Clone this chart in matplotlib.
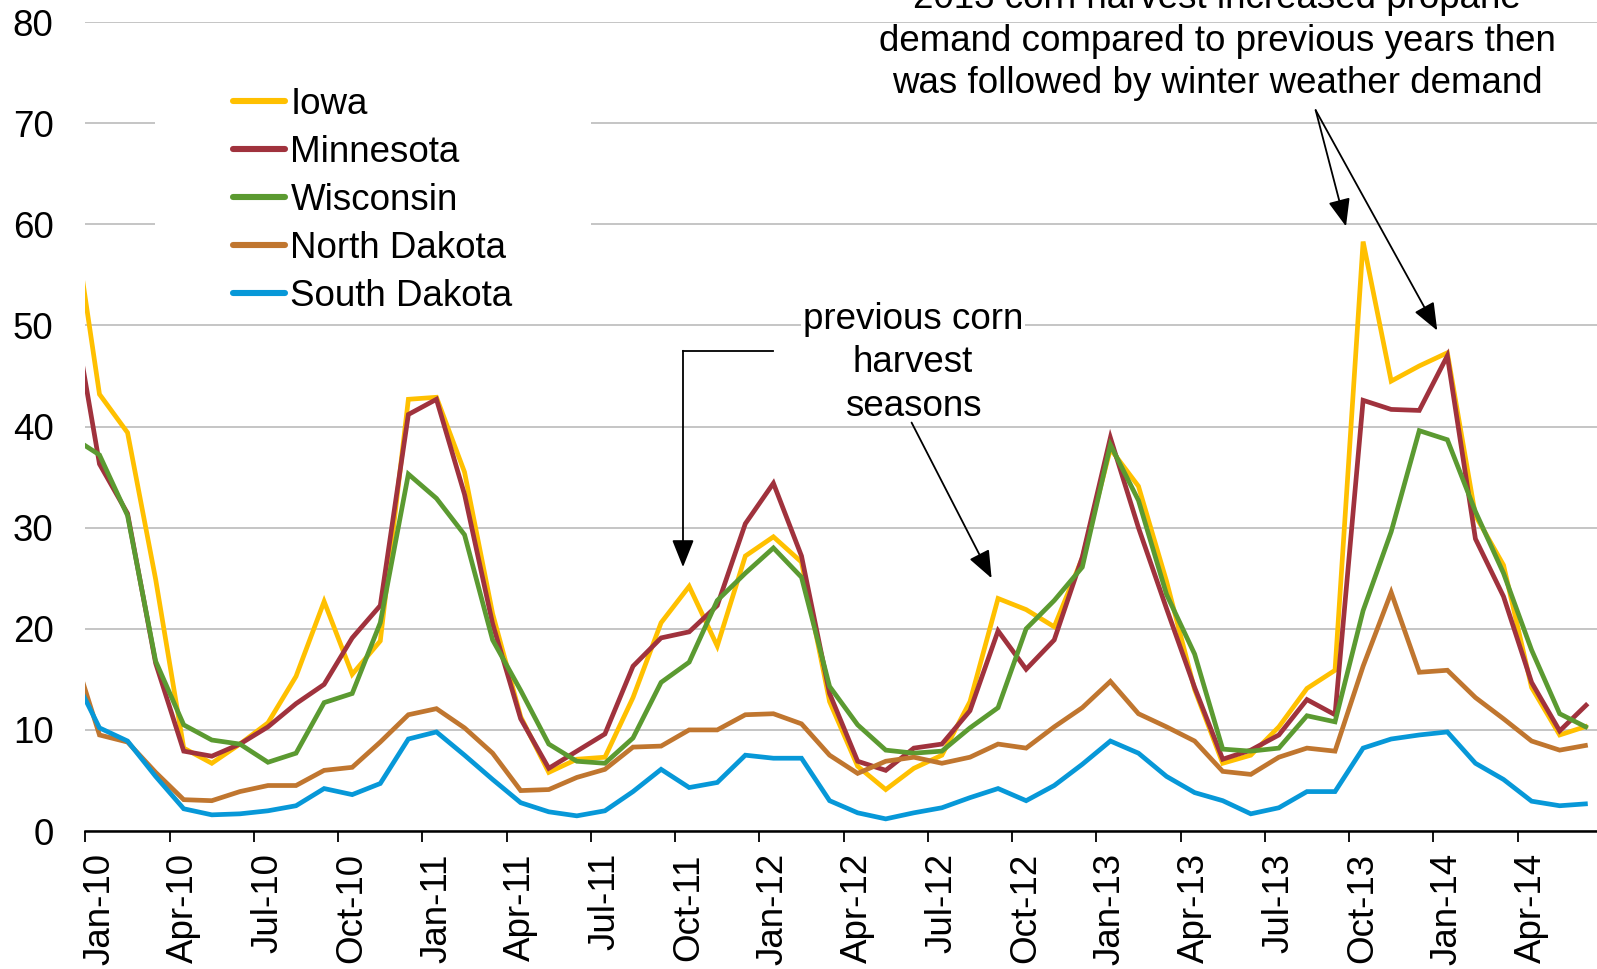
import matplotlib
matplotlib.use("Agg")
import matplotlib.pyplot as plt
import numpy as np
import pandas as pd
from matplotlib.patches import Rectangle

plt.rcParams['font.family'] = ['Liberation Sans', 'DejaVu Sans']

# Monthly categories Dec-09 .. Jun-14 (Dec-09 only partly visible at the left edge)
months = pd.date_range("2009-12-01", "2014-06-01", freq="MS")
month_labels = [d.strftime("%b-%y") for d in months]

iowa = [62.0,
        43.2, 39.4, 24.9, 8.2, 6.7, 8.6, 10.7, 15.3, 22.7, 15.5, 18.8, 42.7, 42.9, 35.5, 21.5, 11.3,
        5.8, 7.1, 7.3, 13.2, 20.6, 24.2, 18.3, 27.2, 29.1, 26.6, 12.8, 6.4, 4.1, 6.2, 7.5, 12.8, 23.0, 21.9, 20.2,
        27.0, 37.8, 34.1, 24.7, 14.0, 6.7, 7.5, 10.3, 14.1, 15.9, 58.3, 44.5, 46.0, 47.3, 31.2, 26.3, 14.2, 9.5, 10.4]
minnesota = [52.5,
             36.3, 31.4, 16.6, 7.9, 7.4, 8.6, 10.3, 12.6, 14.5, 19.1, 22.3, 41.2, 42.7, 33.3, 20.5, 11.1,
             6.2, 7.9, 9.6, 16.3, 19.1, 19.7, 22.3, 30.4, 34.4, 27.2, 13.6, 6.9, 6.0, 8.2, 8.6, 11.9, 19.8, 16.0, 18.9,
             27.1, 38.9, 30.0, 22.0, 14.2, 7.1, 8.0, 9.5, 13.0, 11.5, 42.6, 41.7, 41.6, 47.0, 28.9, 23.2, 14.7, 9.9, 12.6]
wisconsin = [39.0,
             37.2, 31.2, 16.8, 10.5, 9.0, 8.6, 6.8, 7.7, 12.7, 13.6, 20.6, 35.3, 32.9, 29.3, 18.9, 13.9,
             8.6, 6.9, 6.7, 9.2, 14.7, 16.7, 22.8, 25.5, 28.0, 25.1, 14.3, 10.5, 8.0, 7.7, 7.9, 10.2, 12.2, 20.0, 22.8,
             26.1, 38.2, 32.7, 23.4, 17.5, 8.1, 7.9, 8.2, 11.4, 10.8, 21.8, 29.6, 39.6, 38.7, 31.6, 25.5, 17.9, 11.6, 10.2]
north_dakota = [18.3,
                9.5, 8.8, 5.8, 3.1, 3.0, 3.9, 4.5, 4.5, 6.0, 6.3, 8.8, 11.5, 12.1, 10.2, 7.7, 4.0,
                4.1, 5.3, 6.1, 8.3, 8.4, 10.0, 10.0, 11.5, 11.6, 10.6, 7.5, 5.7, 6.9, 7.3, 6.7, 7.3, 8.6, 8.2, 10.3,
                12.2, 14.8, 11.6, 10.3, 8.9, 5.9, 5.6, 7.3, 8.2, 7.9, 16.3, 23.6, 15.7, 15.9, 13.2, 11.1, 8.9, 8.0, 8.5]
south_dakota = [15.8,
                10.2, 8.9, 5.4, 2.2, 1.6, 1.7, 2.0, 2.5, 4.2, 3.6, 4.7, 9.1, 9.8, 7.5, 5.1, 2.8,
                1.9, 1.5, 2.0, 3.9, 6.1, 4.3, 4.8, 7.5, 7.2, 7.2, 3.0, 1.8, 1.2, 1.8, 2.3, 3.3, 4.2, 3.0, 4.5,
                6.6, 8.9, 7.7, 5.4, 3.8, 3.0, 1.7, 2.3, 3.9, 3.9, 8.2, 9.1, 9.5, 9.8, 6.7, 5.1, 2.95, 2.5, 2.7]

series_names = ["Iowa", "Minnesota", "Wisconsin", "North Dakota", "South Dakota"]
series_colors = ["#FFC000", "#A0323D", "#5B9A31", "#C0762F", "#0798D8"]
series_values = [iowa, minnesota, wisconsin, north_dakota, south_dakota]

yticks = [0, 10, 20, 30, 40, 50, 60, 70, 80]

FS = 26.5
fig = plt.figure(figsize=(15.97, 9.69), dpi=100)
ax = fig.add_axes([0.0535, 0.1424, 0.9495, 0.8347])

# category positions: each month centred in its slot; Jan-10 slot starts at 0
pos = np.arange(len(months)) - 1 + 0.5

lines = []
for name, col, vals in zip(series_names, series_colors, series_values):
    ln, = ax.plot(pos, vals, color=col, lw=3.4, label=name, zorder=3,
                  solid_joinstyle='miter', solid_capstyle='butt')
    lines.append(ln)

ax.set_xlim(0, 54)
ax.set_ylim(0, 80)

# gridlines
ax.set_axisbelow(True)
ax.yaxis.grid(True, color="#C0C0C0", lw=1.3)
ax.set_yticks(yticks)
ax.tick_params(axis='y', length=0, pad=23, labelsize=FS)

for s in ["top", "right", "left"]:
    ax.spines[s].set_visible(False)
ax.spines["bottom"].set_linewidth(1.8)
ax.spines["bottom"].set_color("black")
ax.spines["bottom"].set_zorder(4)

# x ticks: marks at slot boundaries, labels centered on categories
label_idx = list(range(1, len(months), 3))
ax.set_xticks(np.arange(0, 54, 3))
ax.set_xticklabels([])
ax.tick_params(axis='x', which='major', length=8, width=1.3, color='black', direction='out')
ax.set_xticks(pos[label_idx], minor=True)
ax.set_xticklabels([month_labels[i] for i in label_idx], minor=True, rotation=90,
                   fontsize=FS, va='top', ha='center')
ax.tick_params(axis='x', which='minor', length=0, pad=16)

# white box behind legend
ax.add_patch(Rectangle((2.475, 53), 15.53, 23, facecolor='white', edgecolor='none', zorder=1))

leg = fig.legend(handles=lines, loc='upper left', bbox_to_anchor=(233 / 1597, 1 - 87 / 969),
                 bbox_transform=fig.transFigure, frameon=False, fontsize=FS,
                 handlelength=1.42, handletextpad=0.14, labelspacing=0.35, borderpad=0,
                 borderaxespad=0)
for h in leg.legend_handles:
    h.set_linewidth(4.4)
    h.set_solid_capstyle('round')

# annotation 1: previous corn harvest seasons
ax.text(29.47, 46.3, "previous corn\nharvest\nseasons", fontsize=FS, ha='center', va='center',
        linespacing=1.31, zorder=5,
        bbox=dict(boxstyle='square,pad=0.05', facecolor='white', edgecolor='none'))
ax.plot([24.48, 21.28], [47.5, 47.5], color='black', lw=1.3, zorder=5)
akw = dict(arrowstyle='-|>,head_length=0.85,head_width=0.34', color='black', lw=1.3,
           shrinkA=0, shrinkB=0, mutation_scale=20)
ax.annotate("", xy=(21.28, 26.1), xytext=(21.28, 47.5), arrowprops=akw, zorder=5)
ax.annotate("", xy=(32.27, 25.0), xytext=(29.42, 40.4), arrowprops=akw, zorder=5)

# annotation 2: 2013 corn harvest
ax.text(40.3, 78.1, "2013 corn harvest increased propane\ndemand compared to previous years then\n"
        "was followed by winter weather demand", fontsize=FS, ha='center', va='center',
        linespacing=1.28, zorder=5, clip_on=False)
ax.annotate("", xy=(44.89, 59.8), xytext=(43.81, 71.3), arrowprops=akw, zorder=5)
ax.annotate("", xy=(48.14, 49.5), xytext=(43.81, 71.3), arrowprops=akw, zorder=5)

fig.savefig("out.png", dpi=100)
